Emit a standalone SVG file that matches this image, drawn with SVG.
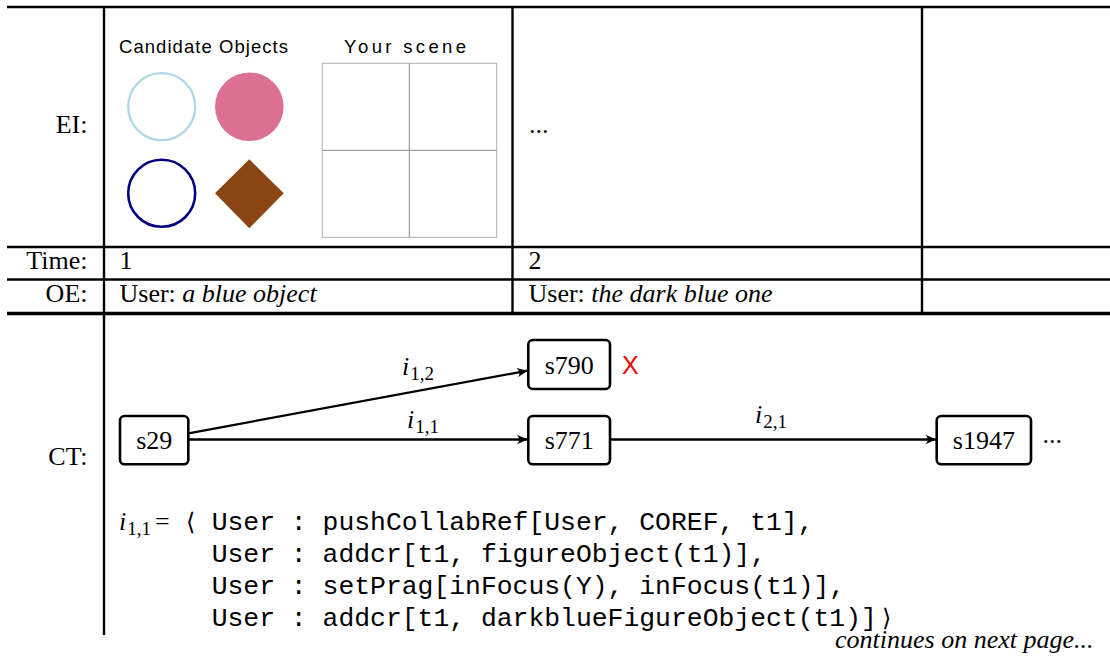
<svg xmlns="http://www.w3.org/2000/svg" width="1110" height="661" viewBox="0 0 1110 661">
  <style>
    .rule { stroke: #000; stroke-width: 2.4; fill: none; }
    .rule-thick { stroke: #000; stroke-width: 3.6; fill: none; }
    .lbl { font-family: "Liberation Serif", "DejaVu Serif", serif; font-size: 26px; fill: #000; }
    .it { font-style: italic; }
    .sans { font-family: "Liberation Sans", Arial, sans-serif; font-size: 18.5px; fill: #000; }
    .node rect { fill: #fff; stroke: #000; stroke-width: 2.6; }
    .node text { font-family: "Liberation Serif", "DejaVu Serif", serif; font-size: 26px; text-anchor: middle; fill: #000; }
    .edge { stroke: #000; stroke-width: 2.3; fill: none; marker-end: url(#tip); }
    .math { font-family: "Liberation Serif", "DejaVu Serif", serif; font-size: 26px; font-style: italic; fill: #000; }
    .sub { font-style: normal; font-size: 19px; }
    .code { font-family: "Liberation Mono", "Courier New", monospace; font-size: 26.4px; fill: #000; }
    .bracket { font-family: "DejaVu Serif", "DejaVu Sans", serif; font-size: 24px; fill: #000; }
  </style>
  <defs>
    <marker id="tip" markerUnits="userSpaceOnUse" markerWidth="14" markerHeight="12" viewBox="-11 -6 12 12" refX="0" refY="0" orient="auto">
      <path d="M0,0 L-10.5,-4.8 Q-6,0 -10.5,4.8 Z" fill="#000"/>
    </marker>
  </defs>

  <rect width="1110" height="661" fill="#fff"/>

  <!-- table rules -->
  <g id="table">
    <line class="rule" x1="7" y1="7" x2="1110" y2="7"/>
    <line class="rule" x1="7" y1="247" x2="1110" y2="247"/>
    <line class="rule" x1="7" y1="279.5" x2="1110" y2="279.5"/>
    <line class="rule-thick" x1="7" y1="313.5" x2="1110" y2="313.5"/>
    <line class="rule" x1="104" y1="7" x2="104" y2="635"/>
    <line class="rule" x1="512.5" y1="7" x2="512.5" y2="313"/>
    <line class="rule" x1="922" y1="7" x2="922" y2="313"/>
  </g>

  <!-- row labels -->
  <g id="row-labels" class="lbl" text-anchor="end">
    <text x="87.5" y="133">EI:</text>
    <text x="87.5" y="268.5">Time:</text>
    <text x="87.5" y="301.5">OE:</text>
    <text x="87.5" y="465">CT:</text>
  </g>

  <!-- environment image, turn 1 -->
  <g id="ei-1">
    <text class="sans" x="119" y="53" textLength="169" lengthAdjust="spacing">Candidate Objects</text>
    <text class="sans" x="344" y="53" font-size="21" textLength="122" lengthAdjust="spacing">Your scene</text>
    <circle cx="161.7" cy="106.7" r="33.5" fill="none" stroke="#add8e6" stroke-width="2.2"/>
    <circle cx="249.3" cy="106.7" r="34.3" fill="#db7093"/>
    <circle cx="161.7" cy="193.3" r="33.5" fill="none" stroke="#000080" stroke-width="2.6"/>
    <polygon points="215,193.3 249.3,159.3 283.7,193.3 249.3,228.3" fill="#8b4513"/>
    <rect x="322.3" y="63.3" width="174.4" height="174" fill="none" stroke="#b0b0b0" stroke-width="1"/>
    <line x1="409.3" y1="63.3" x2="409.3" y2="237.3" stroke="#8a8a8a" stroke-width="1"/>
    <line x1="322.3" y1="150.3" x2="496.7" y2="150.3" stroke="#8a8a8a" stroke-width="1"/>
  </g>

  <!-- environment image, turn 2 -->
  <g id="ei-2">
    <text class="lbl" x="529" y="133">...</text>
  </g>

  <!-- time and observed expressions -->
  <g id="turn-1" class="lbl">
    <text x="119.5" y="268.5">1</text>
    <text x="119.5" y="301.5">User: <tspan class="it">a blue object</tspan></text>
  </g>
  <g id="turn-2" class="lbl">
    <text x="528.5" y="268.5">2</text>
    <text x="528.5" y="301.5">User: <tspan class="it">the dark blue one</tspan></text>
  </g>

  <!-- connectors -->
  <g id="connectors">
    <line class="edge" x1="188.5" y1="433.3" x2="527.5" y2="370.7"/>
    <line class="edge" x1="188.5" y1="439.5" x2="527.5" y2="439.5"/>
    <line class="edge" x1="610" y1="439.5" x2="936" y2="439.5"/>
    <text class="math" x="402" y="375">i<tspan class="sub" dx="1" dy="5">1,2</tspan></text>
    <text class="math" x="407" y="428">i<tspan class="sub" dx="1" dy="5">1,1</tspan></text>
    <text class="math" x="755" y="423">i<tspan class="sub" dx="1" dy="5">2,1</tspan></text>
  </g>

  <!-- state nodes -->
  <g id="s29" class="node">
    <rect x="120" y="416" width="68.3" height="48.3" rx="4.5"/>
    <text x="154.2" y="449.3">s29</text>
  </g>
  <g id="s790" class="node">
    <rect x="528.3" y="340" width="81.7" height="49" rx="4.5"/>
    <text x="569.2" y="373.5">s790</text>
  </g>
  <g id="s790-mark">
    <text x="622" y="374" font-family="'Liberation Sans', Arial, sans-serif" font-size="25" fill="#ff0000">X</text>
  </g>
  <g id="s771" class="node">
    <rect x="528.3" y="416" width="81.7" height="48.3" rx="4.5"/>
    <text x="569.2" y="449.3">s771</text>
  </g>
  <g id="s1947" class="node">
    <rect x="936.7" y="416" width="94.3" height="48.3" rx="4.5"/>
    <text x="983.9" y="449.3">s1947</text>
  </g>
  <g id="s1947-more">
    <text class="lbl" x="1042.5" y="443">...</text>
  </g>

  <!-- interpretation i(1,1) -->
  <g id="interpretation">
    <text class="math" x="119" y="530">i<tspan class="sub" dx="1" dy="5">1,1</tspan></text>
    <text class="lbl" x="155" y="530" font-size="29">=</text>
    <text class="bracket" x="186" y="530">⟨</text>
    <text class="code" x="211.7" y="530">User : pushCollabRef[User, COREF, t1],</text>
    <text class="code" x="211.7" y="562">User : addcr[t1, figureObject(t1)],</text>
    <text class="code" x="211.7" y="594">User : setPrag[inFocus(Y), inFocus(t1)],</text>
    <text class="code" x="211.7" y="625.5">User : addcr[t1, darkblueFigureObject(t1)]</text>
    <text class="bracket" x="882" y="625.5">⟩</text>
  </g>

  <g id="footer">
    <text class="lbl it" x="835" y="648">continues on next page...</text>
  </g>
</svg>
